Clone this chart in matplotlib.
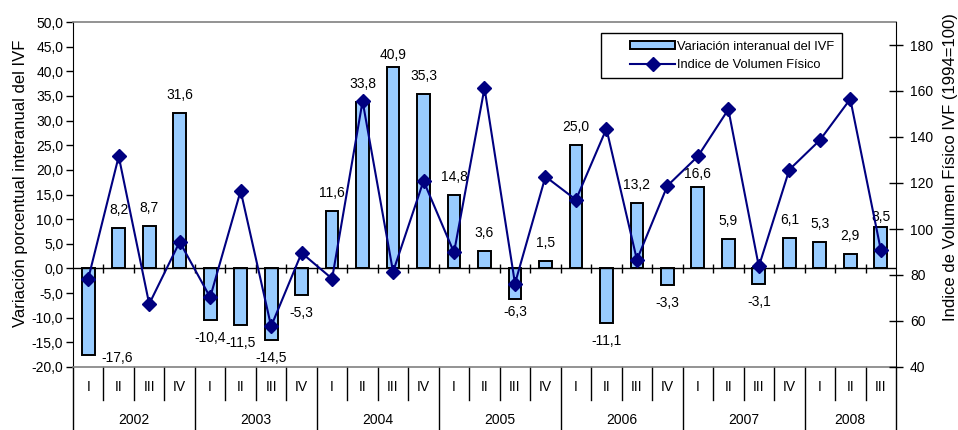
import matplotlib
matplotlib.use("Agg")
import matplotlib.pyplot as plt
from matplotlib.transforms import blended_transform_factory
from matplotlib.ticker import FuncFormatter, MultipleLocator
from matplotlib.patches import Patch, Rectangle
from matplotlib.lines import Line2D
import numpy as np

plt.rcParams['font.family'] = ['Liberation Sans', 'DejaVu Sans']

# ---------------- data ----------------
years = ["2002", "2003", "2004", "2005", "2006", "2007", "2008"]
quarters_per_year = [4, 4, 4, 4, 4, 4, 3]
quarter_names = ["I", "II", "III", "IV"]
variacion = [-17.6, 8.2, 8.7, 31.6,
             -10.4, -11.5, -14.5, -5.3,
             11.6, 33.8, 40.9, 35.3,
             14.8, 3.6, -6.3, 1.5,
             25.0, -11.1, 13.2, -3.3,
             16.6, 5.9, -3.1, 6.1,
             5.3, 2.9, 8.5]
ivf = [78.4, 131.6, 67.4, 94.4,
       70.3, 116.6, 57.7, 89.6,
       78.4, 155.6, 81.4, 120.9,
       89.8, 161.3, 76.3, 122.8,
       112.7, 143.6, 86.6, 118.8,
       131.6, 152.0, 83.7, 125.8,
       138.6, 156.5, 91.0]
bar_label = "Variación interanual del IVF"
line_label = "Indice de Volumen Físico"
left_title = "Variación porcentual interanual del IVF"
right_title = "Indice de Volumen Físico IVF (1994=100)"

# label placement (pixels): default gap from bar end; per-index gap / dx tweaks
default_gap = 18
label_gap = {0: 3, 10: 12, 14: 13, 20: 13, 26: 10}
label_dx = {0: 29}

# ---------------- figure ----------------
W, H = 958, 430
fig = plt.figure(figsize=(W / 100, H / 100), dpi=100)
x0, x1, y0, y1 = 73, 896, 22, 367
ax = fig.add_axes([x0 / W, 1 - y1 / H, (x1 - x0) / W, (y1 - y0) / H])
ax2 = ax.twinx()

n = len(variacion)
x = np.arange(n)
bar_color = "#99CCFF"
line_color = "#000080"

ax.bar(x, variacion, width=0.42, color=bar_color, edgecolor="black",
       linewidth=1.4, zorder=3)
ax.set_xlim(-0.5, n - 0.5)
ax.set_ylim(-20, 50)
ax.yaxis.set_major_locator(MultipleLocator(5))
ax.yaxis.set_major_formatter(FuncFormatter(lambda v, p: f"{v:.1f}".replace(".", ",")))
ax.tick_params(axis="y", direction="out", length=5, width=1, labelsize=10, pad=2)
ax.set_xticks([])

# zero line with crossing ticks at category boundaries
ax.axhline(0, color="black", lw=1, zorder=4)
bounds = np.arange(1, n) - 0.5
ax.vlines(bounds, -1.0, 1.0, color="black", lw=1, zorder=4)

for s in ["top", "bottom"]:
    ax.spines[s].set_color("#808080")
    ax.spines[s].set_linewidth(1.2)
ax.spines["left"].set_color("black")
ax.spines["right"].set_visible(False)
ax2.spines["right"].set_color("black")
for s in ["top", "bottom", "left"]:
    ax2.spines[s].set_visible(False)

# data labels
px2pt = 0.72
for i, v in enumerate(variacion):
    gap = label_gap.get(i, default_gap)
    dx = label_dx.get(i, 0)
    sign = 1 if v >= 0 else -1
    ax.annotate(f"{v:.1f}".replace(".", ","), (i, v),
                xytext=(dx * px2pt, sign * gap * px2pt), textcoords="offset points",
                ha="center", va="center", fontsize=10, zorder=6)

# line on right axis
ax2.plot(x, ivf, color=line_color, lw=1.5, marker="D", markersize=6.8,
         markerfacecolor=line_color, markeredgecolor=line_color, zorder=5)
ax2.set_ylim(40, 190)
ax2.set_yticks(np.arange(40, 181, 20))
ax2.tick_params(axis="y", direction="inout", length=10, width=1, labelsize=10, pad=5)

# category axis below
trans = blended_transform_factory(ax.transData, ax.transAxes)
ph = y1 - y0
q_bottom = -(400 - y1) / ph
y_bottom = -(430 - y1) / ph
q_text = -(387 - y1) / ph
y_text = -(420 - y1) / ph

idx = 0
for yr, nq in zip(years, quarters_per_year):
    start = idx
    for q in range(nq):
        ax.text(idx, q_text, quarter_names[q], transform=trans, ha="center",
                va="center", fontsize=10)
        if q > 0:
            ax.plot([idx - 0.5, idx - 0.5], [0, q_bottom], transform=trans,
                    color="black", lw=1, clip_on=False)
        idx += 1
    ax.text((start + idx - 1) / 2, y_text, yr, transform=trans, ha="center",
            va="center", fontsize=10)
    ax.plot([idx - 0.5, idx - 0.5], [0, y_bottom], transform=trans,
            color="black", lw=1, clip_on=False)
ax.plot([-0.5, -0.5], [0, y_bottom], transform=trans, color="black", lw=1,
        clip_on=False)

# axis titles
fig.text(21 / W, 1 - 183 / H, left_title, rotation=90, ha="center",
         va="center", fontsize=12)
fig.text(951 / W, 1 - 167 / H, right_title, rotation=90, ha="center",
         va="center", fontsize=12)

# legend (frame drawn separately, like the Excel legend box)
fig.patches.append(Rectangle((601 / W, 1 - 78 / H), (842 - 601) / W, (78 - 33) / H,
                             transform=fig.transFigure, facecolor="white",
                             edgecolor="black", linewidth=1, zorder=8))
handles = [Patch(facecolor=bar_color, edgecolor="black", linewidth=1.4),
           Line2D([0], [0], color=line_color, lw=1.5, marker="D",
                  markersize=6.8, markerfacecolor=line_color)]
leg = fig.legend(handles, [bar_label, line_label], loc="center left",
                 bbox_to_anchor=(630 / W, 1 - 56 / H), bbox_transform=fig.transFigure,
                 fontsize=9.3, frameon=False, borderaxespad=0, borderpad=0,
                 handlelength=45 / (9.3 / 0.72), handleheight=0.6,
                 labelspacing=0.5, handletextpad=0.15)
leg.set_zorder(9)

fig.savefig("out.png", dpi=100)
